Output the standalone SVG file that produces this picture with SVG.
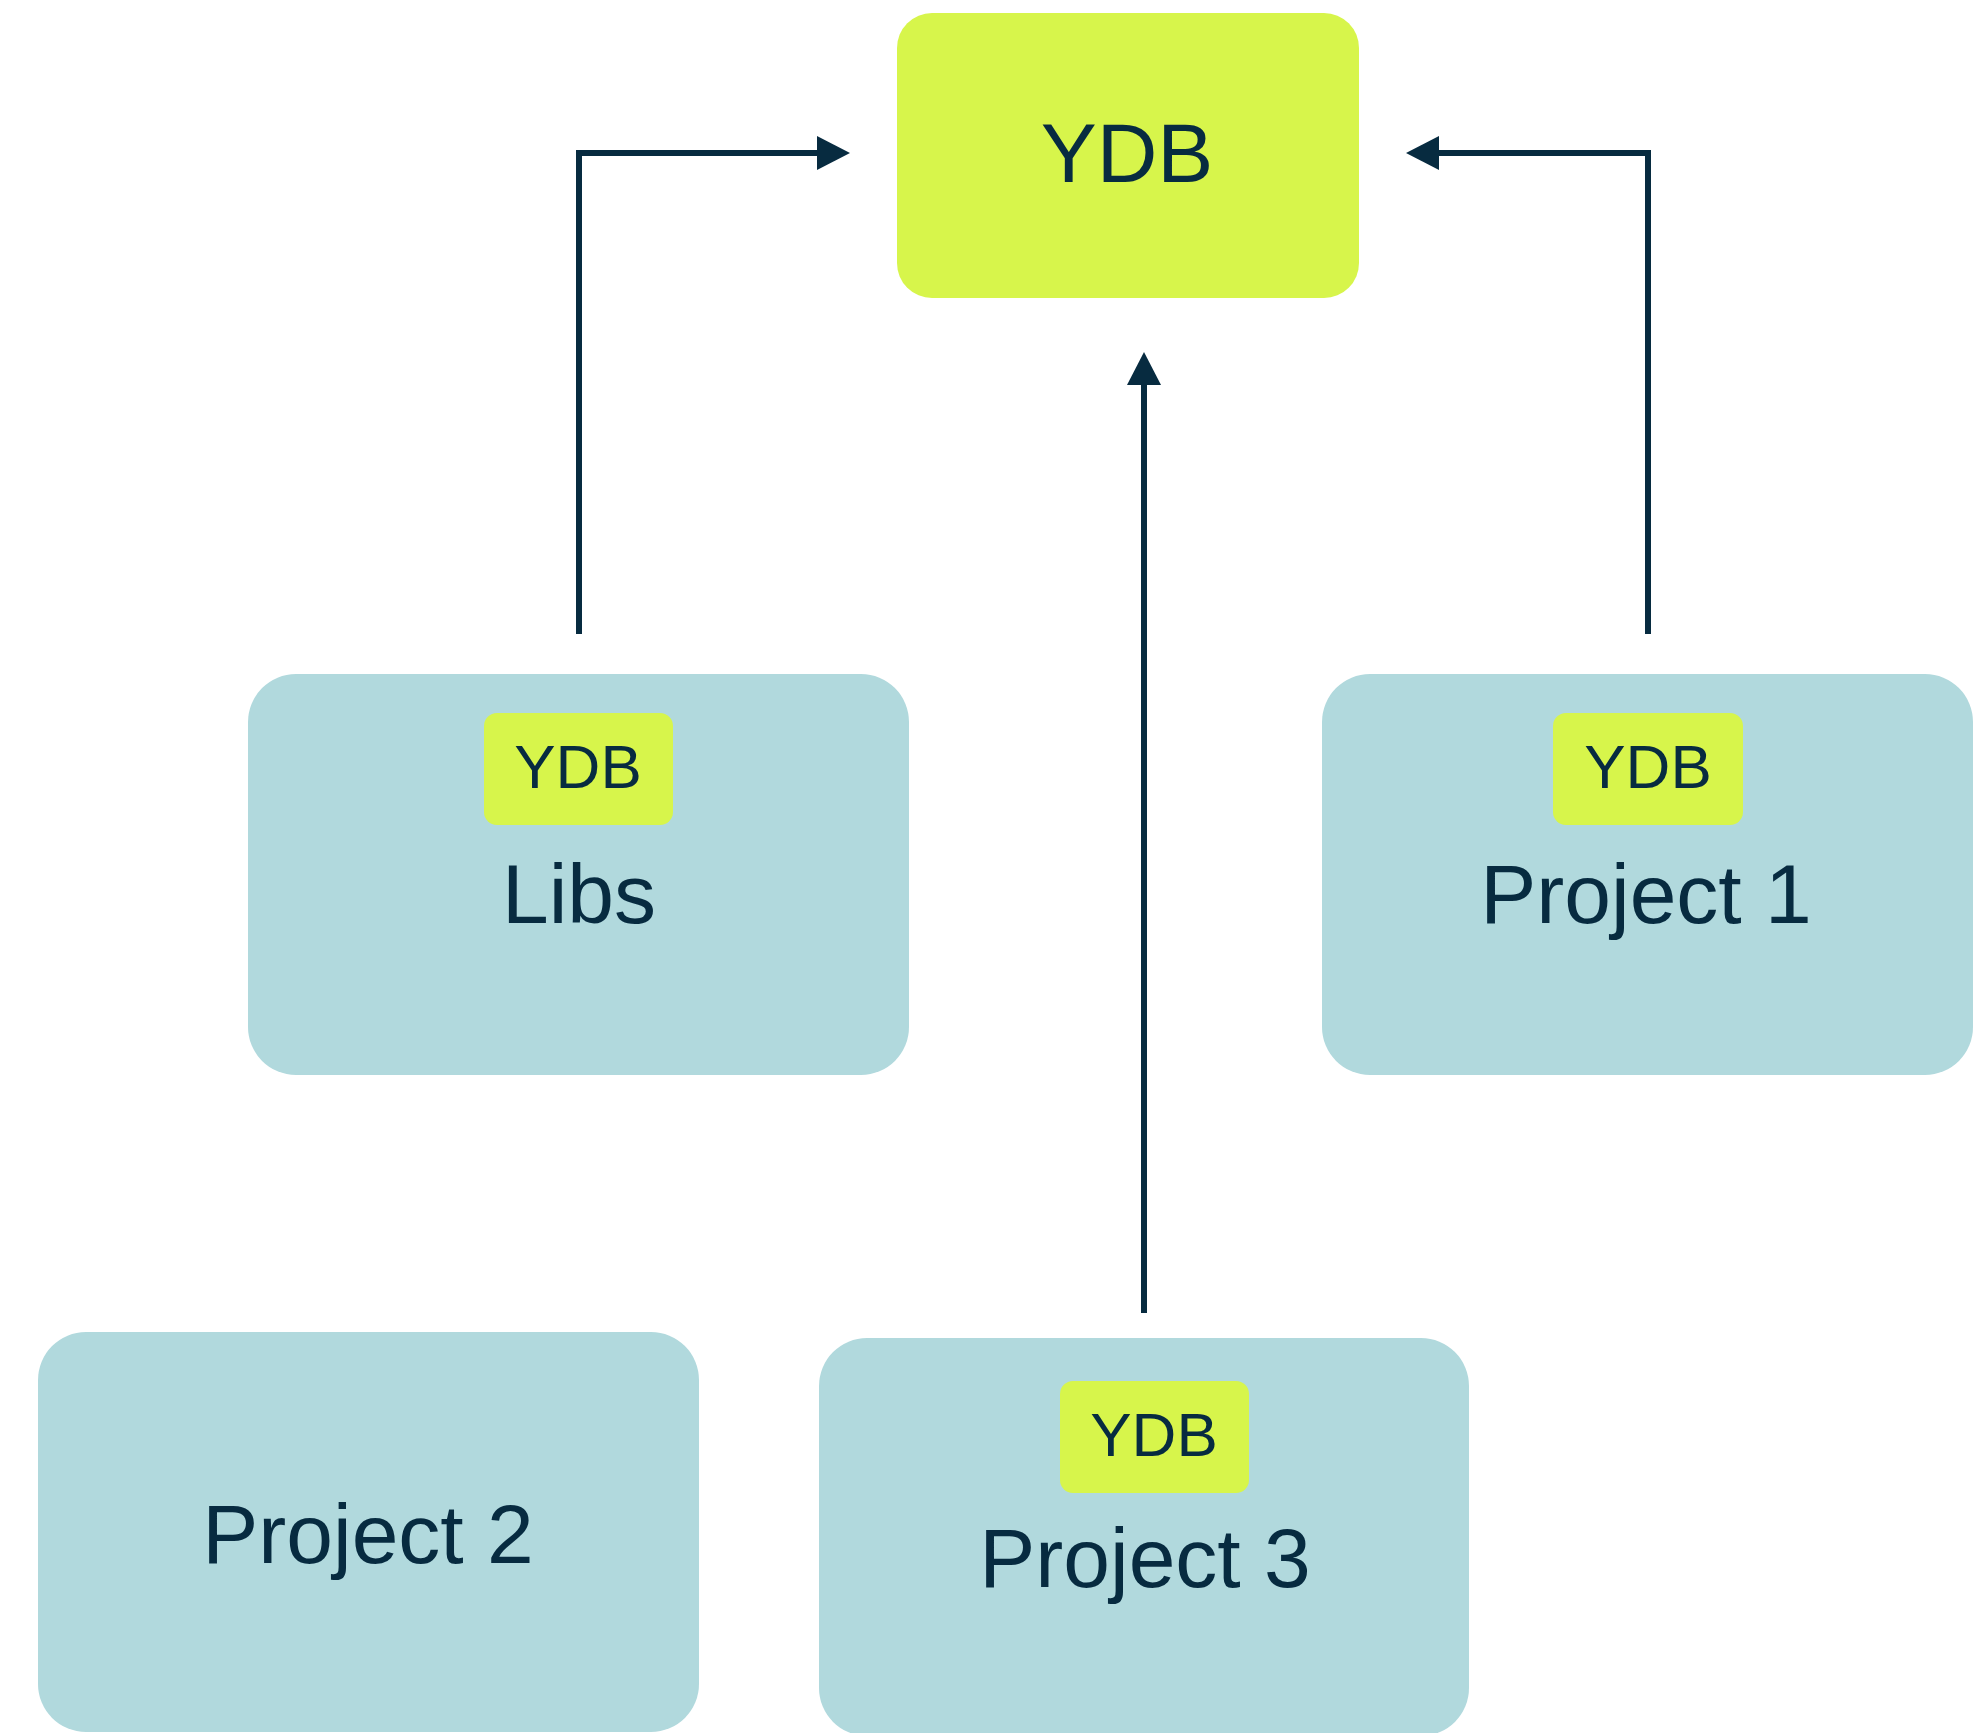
<svg xmlns="http://www.w3.org/2000/svg" width="1988" height="1733" viewBox="0 0 1988 1733">
  <style>
    .lime { fill: #d7f54b; }
    .box { fill: #b1d9dd; }
    .big { font-family: "Liberation Sans", Arial, sans-serif; font-size: 84px; fill: #072b40; text-anchor: middle; }
    .small { font-family: "Liberation Sans", Arial, sans-serif; font-size: 62px; fill: #072b40; text-anchor: middle; }
    .conn { fill: none; stroke: #072b40; stroke-width: 6; }
  </style>
  <defs>
    <marker id="arrow" markerUnits="userSpaceOnUse" markerWidth="33" markerHeight="34" refX="0" refY="17" orient="auto" viewBox="0 0 33 34">
      <path d="M0,0 L33,17 L0,34 Z" fill="#072b40"/>
    </marker>
  </defs>
  <rect width="1988" height="1733" fill="#ffffff"/>

  <g id="connectors">
    <path class="conn" d="M579,634 L579,153 L817,153" stroke-linecap="butt" marker-end="url(#arrow)"/>
    <path class="conn" d="M1648,634 L1648,153 L1439,153" marker-end="url(#arrow)"/>
    <path class="conn" d="M1144,1313 L1144,385" marker-end="url(#arrow)"/>
  </g>

  <g id="ydb">
    <rect class="lime" x="897" y="13" width="462" height="285" rx="35" ry="35"/>
    <text class="big" x="1127" y="182" font-size="85">YDB</text>
  </g>

  <g id="libs">
    <rect class="box" x="248" y="674" width="661" height="401" rx="48" ry="48"/>
    <rect class="lime" x="484" y="713" width="189" height="112" rx="13" ry="13"/>
    <text class="small" x="578" y="788">YDB</text>
    <text class="big" x="579" y="923">Libs</text>
  </g>

  <g id="project1">
    <rect class="box" x="1322" y="674" width="651" height="401" rx="48" ry="48"/>
    <rect class="lime" x="1553" y="713" width="190" height="112" rx="13" ry="13"/>
    <text class="small" x="1648" y="788">YDB</text>
    <text class="big" x="1646" y="923">Project 1</text>
  </g>

  <g id="project2">
    <rect class="box" x="38" y="1332" width="661" height="400" rx="48" ry="48"/>
    <text class="big" x="368" y="1563">Project 2</text>
  </g>

  <g id="project3">
    <rect class="box" x="819" y="1338" width="650" height="398" rx="48" ry="48"/>
    <rect class="lime" x="1060" y="1381" width="189" height="112" rx="13" ry="13"/>
    <text class="small" x="1154" y="1456">YDB</text>
    <text class="big" x="1145" y="1587">Project 3</text>
  </g>
</svg>
